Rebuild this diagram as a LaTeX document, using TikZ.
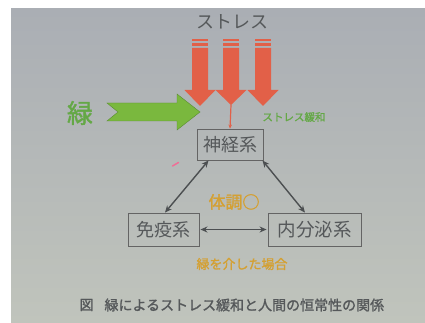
\documentclass[tikz,border=0pt]{standalone}
\usepackage{fontspec}
\newfontfamily\jp{Noto Sans CJK JP}
\newfontfamily\jpb{Noto Sans CJK JP}[FakeBold=1.5]
\usetikzlibrary{arrows.meta}
\definecolor{bgtop}{RGB}{170,174,180}
\definecolor{bgbot}{RGB}{192,196,188}
\definecolor{stressred}{RGB}{226,96,72}
\definecolor{leafgreen}{RGB}{122,184,62}
\definecolor{leafdark}{RGB}{90,140,50}
\definecolor{txtgray}{RGB}{85,88,90}
\definecolor{boxgray}{RGB}{100,100,100}
\definecolor{gold}{RGB}{212,160,50}
\definecolor{greentext}{RGB}{100,168,70}
\definecolor{pinkmark}{RGB}{240,110,150}
\begin{document}
\begin{tikzpicture}[x=1pt,y=-1pt,
  sysbox/.style={draw=boxgray,line width=0.9pt,inner sep=0pt,text=txtgray},
  link/.style={draw=txtgray!90!black,line width=1.4pt,{Stealth[length=7pt,width=6pt]}-{Stealth[length=7pt,width=6pt]}},
  redarrow/.style={fill=stressred}]
\useasboundingbox (0,0) rectangle (425,323);
\fill[white] (0,0) rectangle (425,323);
\shade[top color=bgtop,bottom color=bgbot] (11,9) rectangle (425,323);
% stress label
\node[text=txtgray,font=\jp\fontsize{18}{18}\selectfont] (stress) at (232,22) {ストレス};
% red arrows
\foreach \cx/\ty in {200/106,231/105,263/106}{
  \fill[redarrow] (\cx-8,48) -- (\cx+8,48) -- (\cx+8,90) -- (\cx+15.5,90) -- (\cx,\ty) -- (\cx-15.5,90) -- (\cx-8,90) -- cycle;
  \fill[redarrow] (\cx-8,39) rectangle (\cx+8,41.5);
  \fill[redarrow] (\cx-8,43.5) rectangle (\cx+8,46);
}
\coordinate (t2) at (231,105);
% green arrow
\fill[leafgreen,draw=leafdark,line width=0.4pt] (107,103) -- (177,103) -- (177,94) -- (200,112) -- (177,130) -- (177,121) -- (107,121) -- (118,112) -- cycle;
\node[text=greentext,font=\jpb\fontsize{26}{26}\selectfont] (midori) at (80,113) {緑};
\node[text=greentext,font=\jpb\fontsize{10.5}{10.5}\selectfont] (kanwa) at (294,117) {ストレス緩和};
% boxes
\node[sysbox,minimum width=66pt,minimum height=31pt,font=\jp\fontsize{18}{18}\selectfont] (ns) at (230,144.5) {神経系};
\node[sysbox,minimum width=71pt,minimum height=33pt,font=\jp\fontsize{18}{18}\selectfont] (imm) at (163.5,229.5) {免疫系};
\node[sysbox,minimum width=93pt,minimum height=33pt,font=\jp\fontsize{18.5}{18.5}\selectfont] (endo) at (314.5,229.5) {内分泌系};
% red thin arrow
\draw[stressred,line width=1.2pt,-{Stealth[length=4pt,width=3.5pt]}] (t2) -- (ns.north);
% links
\draw[link] ([xshift=12pt]ns.south west) -- ([xshift=1.5pt]imm.north);
\draw[link] ([xshift=-1pt]ns.south east) -- ([xshift=-9.5pt]endo.north);
\draw[link] ([xshift=1pt]imm.east) -- ([xshift=-1pt]endo.west);
% gold labels
\node[text=gold,font=\jpb\fontsize{17}{17}\selectfont] (taicho) at (234,202) {体調○};
\node[text=gold,font=\jpb\fontsize{13}{13}\selectfont] (baai) at (242,264) {緑を介した場合};
% caption
\node[text=txtgray,font=\jpb\fontsize{14}{14}\selectfont,anchor=west] (fig) at (76,305) {図};
\node[text=txtgray,font=\jpb\fontsize{14}{14}\selectfont,anchor=west] (cap) at (101,305) {緑によるストレス緩和と人間の恒常性の関係};
% pink mark
\draw[pinkmark,line width=1.5pt,line cap=round] (172.5,166) -- (178.5,162.5);
\end{tikzpicture}
\end{document}
